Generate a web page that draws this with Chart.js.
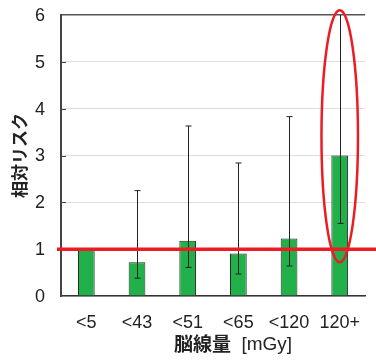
<!DOCTYPE html>
<html>
<head>
<meta charset="utf-8">
<script src="https://cdn.jsdelivr.net/npm/chart.js@4/dist/chart.umd.min.js"></script>
<style>
  html, body { margin:0; padding:0; background:#fff; }
  #wrap { width:376px; height:360px; position:relative; }
</style>
</head>
<body>
<div id="wrap"><canvas id="c"></canvas></div>
<script>
const categories = ["<5", "<43", "<51", "<65", "<120", "120+"];
const risk  = [1.0, 0.72, 1.18, 0.91, 1.23, 3.0];
const lower = [null, 0.38, 0.61, 0.47, 0.64, 1.55];
const upper = [null, 2.25, 3.63, 2.84, 3.83, 6.6];
const yTicks = [0, 1, 2, 3, 4, 5, 6];
const refLevel = 1;
// highlighted category: ellipse spans these risk values
const highlightIndex = 5;
const highlightRange = [0.72, 6.1];

const LATIN = "'Liberation Sans', Arial, sans-serif";
const JP = "'Noto Sans CJK JP', 'Liberation Sans', sans-serif";

const overlay = {
  id: "overlay",
  afterDatasetsDraw(chart){
    const {ctx, chartArea:a, scales:{x, y}} = chart;
    ctx.save();
    // y tick labels and inner tick marks
    ctx.fillStyle = "#222";
    ctx.font = "18px " + LATIN;
    ctx.textAlign = "right";
    ctx.textBaseline = "middle";
    yTicks.forEach(v=>{
      ctx.fillText(String(v), a.left - 16, y.getPixelForValue(v) + 1);
    });
    ctx.strokeStyle = "#444"; ctx.lineWidth = 1;
    yTicks.slice(1, -1).forEach(v=>{
      const py = Math.round(y.getPixelForValue(v)) + 0.5;
      ctx.beginPath(); ctx.moveTo(a.left, py); ctx.lineTo(a.left + 5, py); ctx.stroke();
    });
    // error bars
    ctx.beginPath(); ctx.rect(a.left, a.top, a.right - a.left, a.bottom - a.top); ctx.clip();
    ctx.strokeStyle = "#222"; ctx.lineWidth = 1;
    categories.forEach((c, i)=>{
      if(lower[i] == null) return;
      const px = Math.round(x.getPixelForValue(i)) + 0.5;
      const lo = y.getPixelForValue(lower[i]);
      const hi = y.getPixelForValue(upper[i]);
      ctx.beginPath();
      ctx.moveTo(px, lo); ctx.lineTo(px, hi);
      ctx.moveTo(px - 3, lo); ctx.lineTo(px + 3, lo);
      ctx.moveTo(px - 3, hi); ctx.lineTo(px + 3, hi);
      ctx.stroke();
    });
    ctx.restore();

    ctx.save();
    // reference line
    const ry = y.getPixelForValue(refLevel);
    ctx.strokeStyle = "#ec1c24"; ctx.lineWidth = 3.5;
    ctx.beginPath(); ctx.moveTo(a.left - 4, ry); ctx.lineTo(chart.width, ry); ctx.stroke();
    // ellipse
    const cx = x.getPixelForValue(highlightIndex);
    const yTop = y.getPixelForValue(highlightRange[1]);
    const yBot = y.getPixelForValue(highlightRange[0]);
    const rx = x.width / categories.length * 0.36;
    ctx.lineWidth = 2.5;
    ctx.beginPath();
    ctx.ellipse(cx, (yTop + yBot) / 2, rx, (yBot - yTop) / 2, 0, 0, Math.PI * 2);
    ctx.stroke();

    // axis titles
    ctx.fillStyle = "#222";
    ctx.textBaseline = "middle";
    const t1 = "脳線量";
    const t2 = "  [mGy]";
    ctx.font = "bold 19px " + JP;
    const w1 = ctx.measureText(t1).width;
    ctx.font = "19px " + LATIN;
    const w2 = ctx.measureText(t2).width;
    const startX = 233 - (w1 + w2) / 2;
    ctx.textAlign = "left";
    ctx.font = "bold 19px " + JP;
    ctx.fillText(t1, startX, 344);
    ctx.font = "19px " + LATIN;
    ctx.fillText(t2, startX + w1, 345);

    ctx.translate(20, (a.top + a.bottom) / 2);
    ctx.rotate(-Math.PI / 2);
    ctx.textAlign = "center";
    ctx.font = "bold 17px " + JP;
    ctx.fillText("相対リスク", 0, 0);
    ctx.restore();
  }
};

new Chart(document.getElementById("c"), {
  type: "bar",
  data: {
    labels: categories,
    datasets: [{
      data: risk,
      backgroundColor: "#22b04b",
      borderColor: "#2a2a2a",
      borderWidth: 1,
      barPercentage: 0.33,
      categoryPercentage: 1
    }]
  },
  options: {
    responsive: true,
    maintainAspectRatio: false,
    animation: false,
    layout: { padding: { top: 15, right: 0, bottom: 0, left: 0 } },
    plugins: { legend: { display: false }, tooltip: { enabled: false } },
    scales: {
      x: {
        grid: { display: false, drawTicks: false },
        border: { color: "#333", width: 1.5 },
        ticks: { color: "#222", padding: 16, font: { size: 18, family: LATIN } },
        afterFit(s){ s.height = 64; }
      },
      y: {
        min: 0, max: 6,
        afterBuildTicks(s){ s.ticks = yTicks.map(v => ({ value: v })); },
        grid: {
          drawTicks: false,
          color: ctx => ctx.tick && ctx.tick.value === 6 ? "#555" : "#dedede",
          lineWidth: ctx => ctx.tick && ctx.tick.value === 6 ? 1.5 : 1
        },
        border: { color: "#444", width: 2 },
        ticks: { display: false },
        afterFit(s){ s.width = 61; }
      }
    }
  },
  plugins: [overlay]
});
</script>
</body>
</html>
